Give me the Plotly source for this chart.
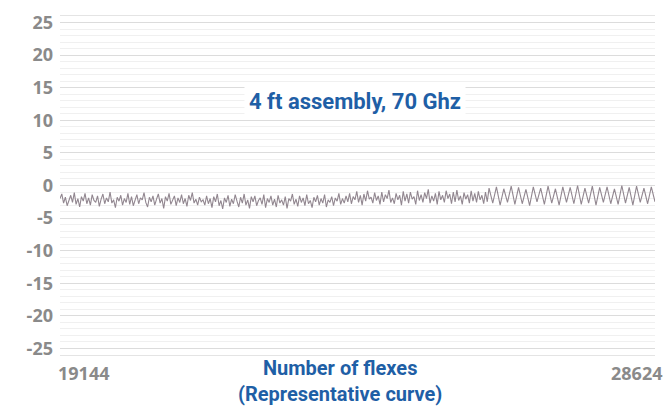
import numpy as np
import plotly.graph_objects as go

# Flex counts (axis end labels)
flex_start = 19144
flex_end = 28624
flex_transition = 25980  # where the curve changes character

# Insertion loss variation (dB)
loss_early = [
    -2.0,-1.3,-2.7,-1.8,-3.1,-2.2,-1.5,-2.6,-1.1,-2.9,-2.0,-3.3,-1.7,-2.4,-1.2,-2.8,-1.9,-3.0,-1.4,-2.3,
    -2.6,-1.6,-3.2,-2.1,-1.3,-2.8,-1.9,-2.5,-1.0,-2.7,-2.2,-3.4,-1.8,-2.4,-1.5,-3.0,-2.0,-2.6,-1.2,-2.9,
    -1.7,-3.1,-2.3,-1.4,-2.8,-1.9,-2.2,-1.1,-2.6,-3.3,-1.8,-2.5,-1.6,-3.0,-2.1,-1.3,-2.7,-2.0,-3.5,-1.7,
    -2.4,-1.2,-2.9,-2.2,-1.6,-3.1,-1.9,-2.6,-1.4,-2.8,-2.0,-3.2,-1.5,-2.3,-1.1,-2.7,-2.1,-3.0,-1.8,-2.5,
    -2.2,-3.0,-1.6,-2.8,-2.0,-3.4,-1.7,-2.5,-1.3,-3.1,-2.3,-3.6,-1.9,-2.6,-1.5,-3.2,-2.1,-2.8,-1.4,-2.4,
    -3.3,-1.8,-2.7,-1.3,-3.0,-2.2,-3.5,-1.7,-2.5,-1.6,-3.1,-2.3,-1.9,-2.9,-1.4,-3.4,-2.0,-2.6,-1.6,-3.0,
    -2.1,-3.3,-1.5,-2.7,-2.2,-3.0,-1.7,-3.5,-2.0,-2.4,-1.3,-2.9,-2.1,-3.2,-1.6,-2.6,-1.9,-3.1,-1.4,-2.8,
    -2.3,-3.4,-1.8,-2.5,-1.5,-3.0,-2.0,-2.7,-1.4,-3.3,-2.2,-2.6,-1.7,-3.1,-1.9,-2.4,-1.2,-2.9,-2.0,-2.7,
    -1.6,-2.5,-1.2,-2.8,-1.7,-2.2,-0.9,-2.6,-1.5,-3.0,-1.3,-2.4,-0.8,-2.1,-1.8,-2.7,-1.1,-2.3,-1.6,-2.9,
    -1.0,-2.5,-1.4,-2.0,-0.7,-2.6,-1.9,-2.8,-1.2,-2.2,-1.5,-3.0,-0.9,-2.4,-1.3,-2.7,-1.0,-2.1,-1.7,-2.9,
    -0.8,-2.3,-1.4,-2.6,-1.1,-2.0,-0.6,-2.7,-1.6,-2.4,-1.2,-2.9,-0.9,-2.2,-1.5,-2.6,-0.8,-2.0,-1.3,-2.8,
    -1.0,-2.5,-0.7,-2.3,-1.6,-2.9,-1.1,-2.1,-1.4,-2.7,-0.8,-2.4,-1.2,-2.6,-0.9,-2.2,-1.5,-2.8,-1.0,-2.5,
]
loss_late = [
    -0.4,-2.7,-0.2,-3.0,-0.5,-2.6,-0.1,-2.9,-0.3,-2.8,-0.6,-3.1,-0.2,-2.5,-0.4,-2.9,-0.1,-2.7,-0.5,-3.0,
    -0.2,-2.6,-0.3,-2.8,0.0,-2.9,-0.4,-2.7,-0.1,-3.0,-0.3,-2.6,-0.2,-2.8,-0.5,-2.9,0.0,-2.7,-0.3,-3.0,
    -0.1,-2.6,-0.4,-2.8,-0.2,-2.5,
]

y_ticks = [25, 20, 15, 10, 5, 0, -5, -10, -15, -20, -25]

x_early = np.linspace(flex_start, flex_transition, len(loss_early), endpoint=False)
x_late = np.linspace(flex_transition, flex_end, len(loss_late))
x_all = list(x_early) + list(x_late)
y_all = loss_early + loss_late

BLUE = "#1f5fa6"
GRAY = "#8a8a8a"
COND = "Liberation Sans Narrow, Roboto, Arial Narrow, sans-serif"
SANS = "Open Sans, DejaVu Sans, sans-serif"

W, H = 663, 407
ML, MR, MT, MB = 60, 8, 16, 52
PW, PH = W - ML - MR, H - MT - MB


def px(xp):
    return (xp - ML) / PW


def py(yp):
    return 1 - (yp - MT) / PH


fig = go.Figure()
fig.add_trace(go.Scatter(
    x=x_all, y=y_all, mode="lines",
    line=dict(color="#928790", width=1.1),
    hoverinfo="skip", showlegend=False,
))

fig.update_layout(
    width=W, height=H,
    margin=dict(l=ML, r=MR, t=MT, b=MB),
    paper_bgcolor="white", plot_bgcolor="white",
    xaxis=dict(
        range=[flex_start, flex_end],
        showticklabels=False, showgrid=False, zeroline=False,
        showline=True, linecolor="#e4e4e4", mirror=True,
    ),
    yaxis=dict(
        range=[-26, 26],
        tickvals=y_ticks,
        ticktext=["<b>%d</b>" % v for v in y_ticks],
        tickfont=dict(family=SANS, size=18, color=GRAY),
        showgrid=True, gridcolor="#dcdcdc", gridwidth=1,
        minor=dict(dtick=1, showgrid=True, gridcolor="#f0f0f0", gridwidth=1),
        zeroline=False, showline=False, ticks="",
        ticklabelstandoff=6,
    ),
    annotations=[
        dict(text="<b>4 ft assembly, 70 Ghz</b>", x=px(355), y=py(101), xref="paper", yref="paper",
             showarrow=False, font=dict(family=COND, size=22, color=BLUE),
             bgcolor="white", borderpad=4, xanchor="center", yanchor="middle"),
        dict(text="<b>Number of flexes</b><br><b>(Representative curve)</b>",
             x=px(340), y=py(381), xref="paper", yref="paper", showarrow=False,
             font=dict(family=COND, size=20, color=BLUE), yanchor="middle", xanchor="center"),
        dict(text="<b>%d</b>" % flex_start, x=px(56), xref="paper", y=py(373), yref="paper",
             showarrow=False, xanchor="left", yanchor="middle",
             font=dict(family=SANS, size=18, color=GRAY)),
        dict(text="<b>%d</b>" % flex_end, x=px(664), xref="paper", y=py(373), yref="paper",
             showarrow=False, xanchor="right", yanchor="middle",
             font=dict(family=SANS, size=18, color=GRAY)),
    ],
)

fig.write_html("out.html", config={"displayModeBar": False},
               post_script="document.body.style.margin='0';")
